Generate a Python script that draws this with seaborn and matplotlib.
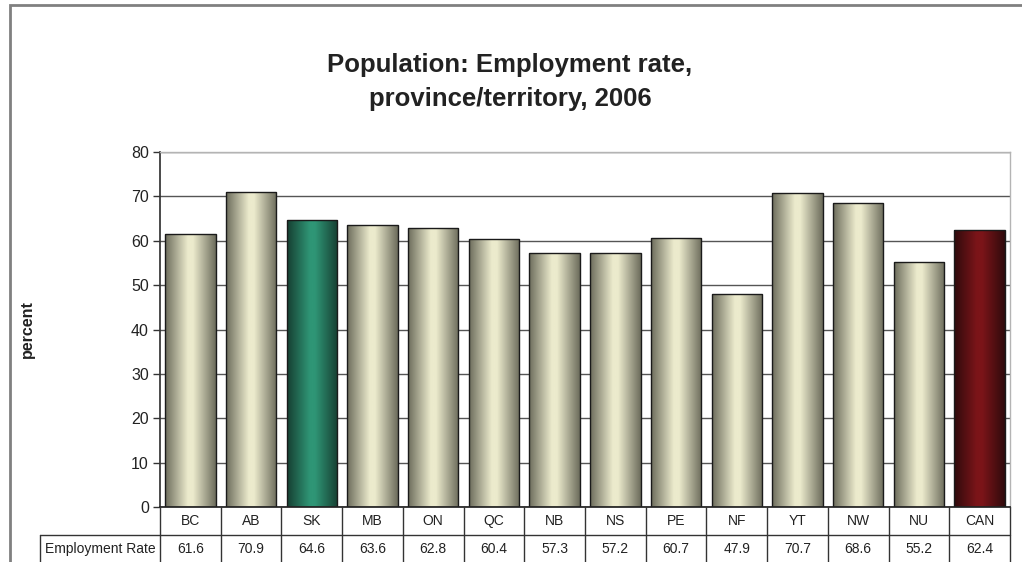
import numpy as np
import pandas as pd
import matplotlib
matplotlib.use("Agg")
import matplotlib.pyplot as plt
import matplotlib.patches as mpatches
from matplotlib.colors import LinearSegmentedColormap
import seaborn as sns

# Employment rate by province / territory, 2006
regions = ["BC", "AB", "SK", "MB", "ON", "QC", "NB", "NS", "PE", "NF", "YT", "NW", "NU", "CAN"]
employment_rate = [61.6, 70.9, 64.6, 63.6, 62.8, 60.4, 57.3, 57.2, 60.7, 47.9, 70.7, 68.6, 55.2, 62.4]
y_ticks = [0, 10, 20, 30, 40, 50, 60, 70, 80]
row_label = "Employment Rate"
title = "Population: Employment rate,\nprovince/territory, 2006"
y_label = "percent"

# cylinder-style shading: (edge, highlight) per bar group
shade_default = ("#6c6c5c", "#ecebcd")
shade_sk = ("#163f31", "#2f9676")
shade_can = ("#2f0a0c", "#7c1519")

sns.set_theme(style="white")
plt.rcParams["font.family"] = ["Liberation Sans", "DejaVu Sans"]

W, H = 1022, 562
fig = plt.figure(figsize=(W / 100, H / 100), dpi=100)
left_px, right_px, top_px, bottom_px = 160, 1010, 152, 507
ax = fig.add_axes([left_px / W, 1 - bottom_px / H,
                   (right_px - left_px) / W, (bottom_px - top_px) / H])

df = pd.DataFrame({"region": regions, "rate": employment_rate})
sns.barplot(data=df, x="region", y="rate", ax=ax, width=0.83,
            color="#d8d7bb", edgecolor="#1a1a1a", linewidth=1.0, zorder=3)

ax.set_xlim(-0.5, len(regions) - 0.5)
ax.set_ylim(0, 80)
ax.set_yticks(y_ticks)
ax.set_yticklabels([str(t) for t in y_ticks], fontsize=11.5, color="#222222")
ax.tick_params(axis="y", length=5, width=1, color="#333333", direction="out", pad=3, left=True)
ax.set_xticks([])
ax.set_xlabel("")
ax.set_ylabel("")
ax.yaxis.grid(True, color="#555555", linewidth=1.0, zorder=0)
ax.xaxis.grid(False)
ax.set_axisbelow(True)
for side in ("top", "right"):
    ax.spines[side].set_color("#b4b4b4")
    ax.spines[side].set_linewidth(1.0)
ax.spines["left"].set_color("#333333")
ax.spines["bottom"].set_color("#222222")
for s in ax.spines.values():
    s.set_zorder(4)

profile = np.linspace(0, 1, 256).reshape(1, -1)
for patch, reg in zip(ax.patches, regions):
    edge, light = shade_default
    if reg == "SK":
        edge, light = shade_sk
    elif reg == "CAN":
        edge, light = shade_can
    cmap = LinearSegmentedColormap.from_list(
        "cyl", [(0.0, edge), (0.45, light), (0.55, light), (1.0, edge)])
    x0, y0 = patch.get_x(), patch.get_y()
    w, h = patch.get_width(), patch.get_height()
    im = ax.imshow(profile, cmap=cmap, aspect="auto", extent=(x0, x0 + w, y0, y0 + h),
                   zorder=3.5, interpolation="bicubic")
    im.set_clip_path(patch)
    patch.set_facecolor("none")
    patch.set_zorder(3.6)

ax.set_xlim(-0.5, len(regions) - 0.5)
ax.set_ylim(0, 80)

# data table beneath the axis
ax_h = bottom_px - top_px
row_h = 28 / ax_h
line_kw = dict(color="#333333", linewidth=1.0, clip_on=False, zorder=5)
trans = ax.get_xaxis_transform()
n = len(regions)
for i in range(n + 1):
    ax.plot([i - 0.5, i - 0.5], [0, -2.2 * row_h], transform=trans, **line_kw)
label_x0 = -0.5 - (left_px - 40) / ((right_px - left_px) / n)
ax.plot([label_x0, n - 0.5], [-row_h, -row_h], transform=trans, **line_kw)
ax.plot([label_x0, label_x0], [-row_h, -2.2 * row_h], transform=trans, **line_kw)
for i, (reg, val) in enumerate(zip(regions, employment_rate)):
    ax.text(i, -0.5 * row_h, reg, transform=trans, ha="center", va="center",
            fontsize=10, color="#222222")
    ax.text(i, -1.5 * row_h, f"{val:.1f}", transform=trans, ha="center", va="center",
            fontsize=10, color="#222222")
ax.text((label_x0 - 0.5) / 2, -1.5 * row_h, row_label, transform=trans,
        ha="center", va="center", fontsize=10, color="#222222")

# title and axis label
fig.text(510 / W, 1 - 82 / H, title, ha="center", va="center", fontsize=18.5,
         fontweight="bold", color="#222222", linespacing=1.5)
fig.text(27 / W, 1 - 329 / H, y_label, ha="center", va="center", rotation=90,
         fontsize=11.5, fontweight="bold", color="#222222")

# outer frame
fig.add_artist(mpatches.Rectangle((10 / W, -0.2), 1.2, 1.2 - 5 / H,
                                  transform=fig.transFigure, fill=False,
                                  edgecolor="#808080", linewidth=2))

fig.savefig("out.png", dpi=100, facecolor="white")
